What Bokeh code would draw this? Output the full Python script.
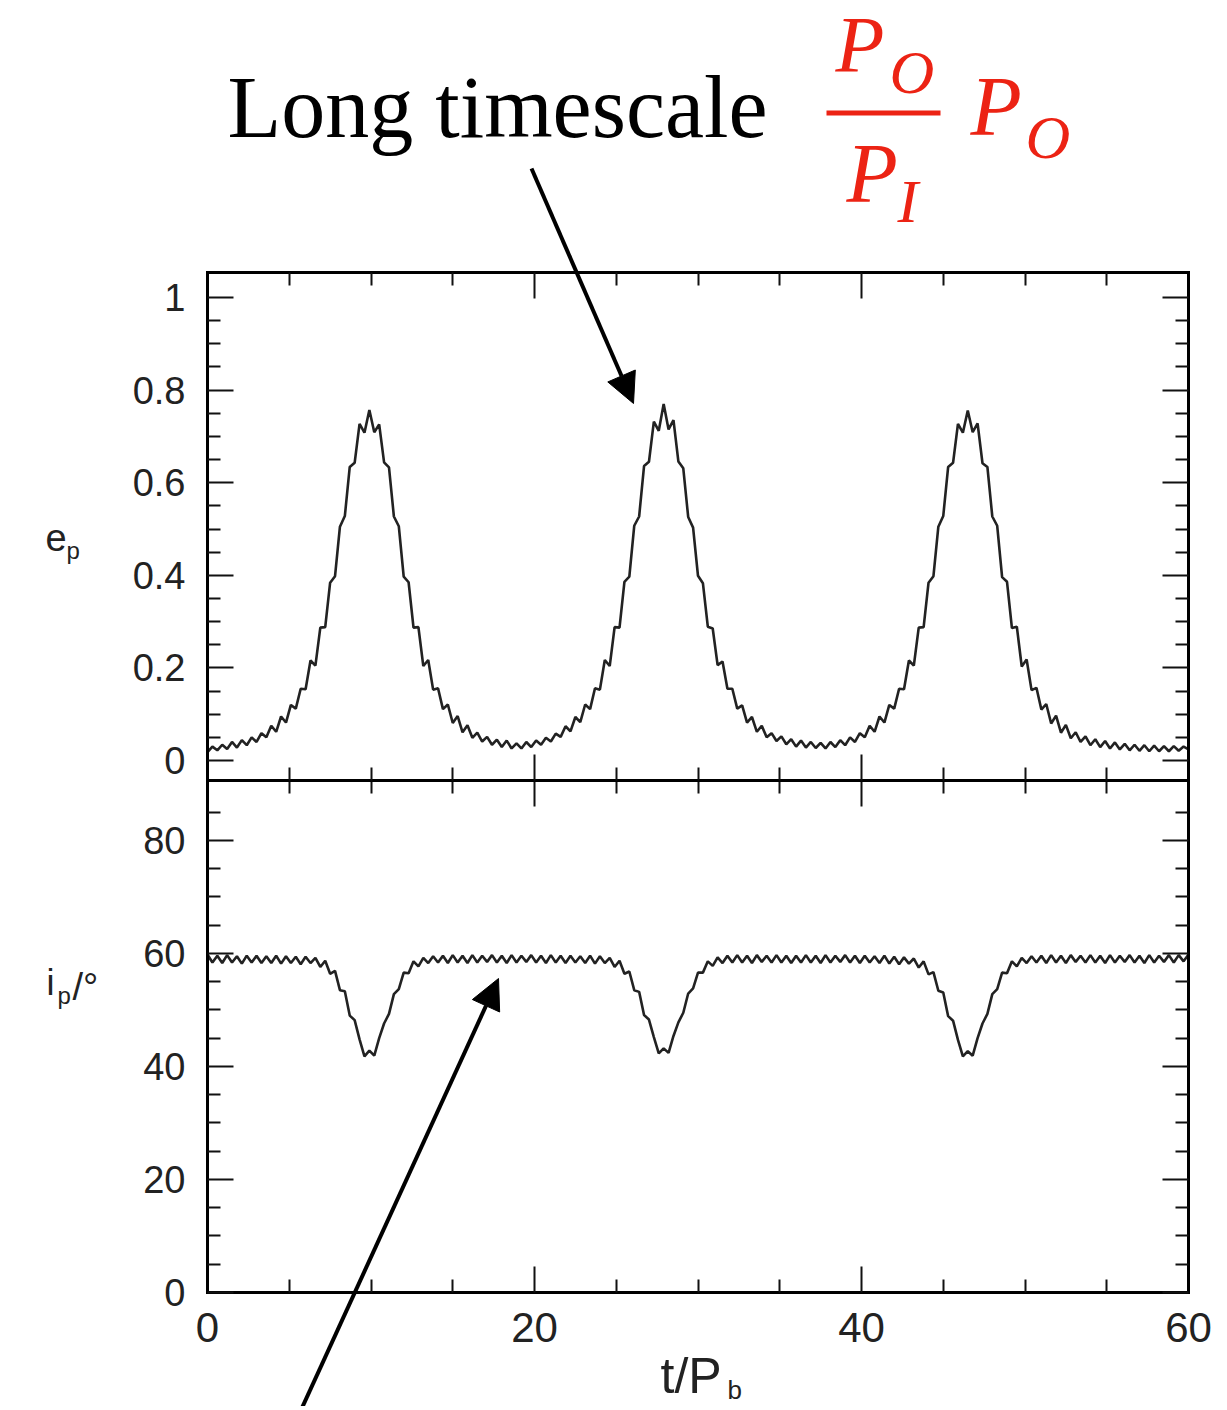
from bokeh.plotting import figure
from bokeh.models import (Range1d, LinearAxis, FixedTicker, CustomJSTickFormatter,
                          Label, Arrow, NormalHead)
from bokeh.embed import file_html
from bokeh.resources import INLINE

# ---------------- data ----------------
T_STEP = 0.3  # sampling step in t/P_b

e_p = [
    0.018, 0.030, 0.022, 0.034, 0.025, 0.040, 0.028, 0.044, 0.033, 0.050,
    0.040, 0.059, 0.050, 0.075, 0.062, 0.095, 0.082, 0.120, 0.112, 0.155,
    0.154, 0.216, 0.205, 0.287, 0.288, 0.384, 0.398, 0.505, 0.528, 0.634,
    0.643, 0.727, 0.708, 0.757, 0.709, 0.726, 0.644, 0.633, 0.527, 0.506,
    0.397, 0.385, 0.287, 0.288, 0.204, 0.217, 0.153, 0.156, 0.111, 0.121,
    0.081, 0.096, 0.061, 0.076, 0.049, 0.060, 0.041, 0.051, 0.034, 0.045,
    0.029, 0.043, 0.026, 0.037, 0.026, 0.040, 0.029, 0.043, 0.034, 0.049,
    0.041, 0.058, 0.051, 0.074, 0.063, 0.094, 0.083, 0.121, 0.111, 0.156,
    0.153, 0.217, 0.204, 0.288, 0.287, 0.386, 0.397, 0.507, 0.527, 0.636,
    0.645, 0.732, 0.712, 0.770, 0.715, 0.735, 0.646, 0.631, 0.526, 0.503,
    0.399, 0.383, 0.289, 0.285, 0.206, 0.214, 0.155, 0.155, 0.112, 0.119,
    0.082, 0.094, 0.062, 0.075, 0.050, 0.059, 0.042, 0.052, 0.035, 0.046,
    0.030, 0.043, 0.028, 0.040, 0.027, 0.038, 0.026, 0.040, 0.029, 0.044,
    0.033, 0.050, 0.040, 0.059, 0.050, 0.075, 0.062, 0.095, 0.082, 0.120,
    0.112, 0.155, 0.154, 0.216, 0.205, 0.287, 0.288, 0.384, 0.398, 0.505,
    0.528, 0.634, 0.643, 0.727, 0.708, 0.756, 0.709, 0.728, 0.642, 0.634,
    0.527, 0.507, 0.396, 0.386, 0.286, 0.289, 0.203, 0.218, 0.152, 0.157,
    0.110, 0.122, 0.080, 0.097, 0.060, 0.077, 0.048, 0.061, 0.040, 0.052,
    0.033, 0.046, 0.029, 0.042, 0.026, 0.039, 0.024, 0.036, 0.022, 0.034,
    0.021, 0.033, 0.020, 0.032, 0.020, 0.031, 0.020, 0.031, 0.021, 0.030,
    0.024,
]

i_p = [
    59.8, 58.4, 59.6, 58.3, 59.7, 58.4, 59.5, 58.2, 59.6, 58.4,
    59.6, 58.3, 59.5, 58.3, 59.6, 58.2, 59.5, 58.3, 59.4, 58.1,
    59.4, 58.3, 59.2, 57.6, 58.7, 56.4, 56.9, 53.5, 53.3, 49.0,
    48.2, 44.8, 41.8, 42.8, 41.9, 45.0, 47.6, 49.3, 52.8, 53.7,
    56.6, 56.5, 58.6, 57.7, 59.2, 58.3, 59.5, 58.4, 59.6, 58.3,
    59.7, 58.4, 59.6, 58.3, 59.7, 58.4, 59.6, 58.5, 59.7, 58.4,
    59.6, 58.3, 59.7, 58.4, 59.6, 58.5, 59.7, 58.4, 59.6, 58.3,
    59.7, 58.4, 59.6, 58.3, 59.6, 58.4, 59.5, 58.3, 59.6, 58.2,
    59.5, 58.3, 59.2, 57.6, 58.7, 56.4, 56.8, 53.5, 53.2, 49.1,
    48.3, 45.2, 42.3, 43.2, 42.4, 45.4, 47.8, 49.5, 52.9, 53.8,
    56.6, 56.6, 58.6, 57.8, 59.3, 58.3, 59.6, 58.4, 59.7, 58.4,
    59.6, 58.3, 59.7, 58.5, 59.6, 58.4, 59.7, 58.4, 59.6, 58.3,
    59.6, 58.4, 59.7, 58.4, 59.6, 58.3, 59.7, 58.4, 59.6, 58.5,
    59.7, 58.4, 59.6, 58.3, 59.6, 58.4, 59.5, 58.3, 59.6, 58.2,
    59.4, 58.1, 59.3, 58.2, 59.1, 57.5, 58.6, 56.3, 56.7, 53.4,
    53.1, 48.9, 48.1, 44.7, 41.8, 42.7, 41.9, 45.0, 47.6, 49.3,
    52.8, 53.7, 56.6, 56.5, 58.6, 57.7, 59.2, 58.3, 59.5, 58.4,
    59.6, 58.3, 59.7, 58.4, 59.6, 58.3, 59.7, 58.5, 59.6, 58.4,
    59.7, 58.4, 59.6, 58.3, 59.7, 58.4, 59.6, 58.5, 59.7, 58.4,
    59.6, 58.3, 59.7, 58.4, 59.6, 58.5, 59.7, 58.4, 59.7, 58.6,
    59.8,
]

t_e = [round(k * T_STEP, 1) for k in range(len(e_p))]
t_i = [round(k * T_STEP, 1) for k in range(len(i_p))]

x_major = [0, 20, 40, 60]
x_minor = [5, 10, 15, 25, 30, 35, 45, 50, 55]
e_major = [0, 0.2, 0.4, 0.6, 0.8, 1.0]
e_minor = [0.05, 0.1, 0.15, 0.25, 0.3, 0.35, 0.45, 0.5, 0.55,
           0.65, 0.7, 0.75, 0.85, 0.9, 0.95]
i_major = [0, 20, 40, 60, 80]
i_minor = [5, 10, 15, 25, 30, 35, 45, 50, 55, 65, 70, 75, 85]

# ---------------- geometry ----------------
W, H = 1220, 1406
X_START, X_END = 0, 60
E_BOT, E_TOP = -0.0432, 1.054
I_BOT, I_TOP = 0, 90.6

FRAME_L, FRAME_R = 207, 1188
TOP1, MID, BOT2 = 272, 780, 1292


def tx(px):
    return X_START + (px - FRAME_L) * (X_END - X_START) / (FRAME_R - FRAME_L)


def ey(py):
    return E_TOP - (py - TOP1) * (E_TOP - E_BOT) / (MID - TOP1)


def iy(py):
    return I_TOP - (py - MID) * (I_TOP - I_BOT) / (BOT2 - MID)


TICK_FONT = "Liberation Sans"
RED = "#ec2314"
INK = "#222222"

p = figure(width=W, height=H, title=None,
           x_range=Range1d(tx(0), tx(W)), y_range=Range1d(ey(H), ey(0)),
           x_axis_location=None, y_axis_location=None,
           toolbar_location=None, output_backend="svg",
           min_border_left=0, min_border_right=0,
           min_border_top=0, min_border_bottom=0)
p.extra_y_ranges = {"i": Range1d(iy(H), iy(0))}
p.grid.visible = False
p.outline_line_color = None
p.background_fill_color = "white"
p.border_fill_color = "white"


def add_axis(side, ticks, minor, loc, bounds, range_name="default",
             labels=True, size="38px", standoff=22, formatter=None):
    kw = dict(ticker=FixedTicker(ticks=ticks, minor_ticks=minor),
              fixed_location=loc, bounds=bounds, y_range_name=range_name)
    if formatter is not None:
        kw["formatter"] = formatter
    ax = LinearAxis(**kw)
    ax.axis_line_color = "black"
    ax.axis_line_width = 3
    ax.axis_line_cap = "square"
    ax.major_tick_in = 26
    ax.major_tick_out = 0
    ax.minor_tick_in = 13
    ax.minor_tick_out = 0
    ax.major_tick_line_color = "#111111"
    ax.major_tick_line_width = 2
    ax.minor_tick_line_color = "#111111"
    ax.minor_tick_line_width = 2
    if labels:
        ax.major_label_text_font = TICK_FONT
        ax.major_label_text_font_size = size
        ax.major_label_text_color = INK
        ax.major_label_standoff = standoff
    else:
        ax.major_label_text_color = None
    p.add_layout(ax, side)
    return ax


e_fmt = CustomJSTickFormatter(code="return (Math.round(tick*10)/10).toString();")

# top panel (e_p) frame with ticks
add_axis("left", e_major, e_minor, X_START, (E_BOT, E_TOP), formatter=e_fmt)
add_axis("right", e_major, e_minor, X_END, (E_BOT, E_TOP), labels=False)
add_axis("below", x_major, x_minor, E_BOT, (X_START, X_END), labels=False)
add_axis("above", x_major, x_minor, E_TOP, (X_START, X_END), labels=False)

# bottom panel (i_p) frame with ticks
add_axis("left", i_major, i_minor, X_START, (I_BOT, I_TOP), range_name="i")
add_axis("right", i_major, i_minor, X_END, (I_BOT, I_TOP), range_name="i",
         labels=False)
add_axis("below", x_major, x_minor, I_BOT, (X_START, X_END), range_name="i",
         size="42px", standoff=20)
add_axis("above", x_major, x_minor, I_TOP, (X_START, X_END), range_name="i",
         labels=False)

# curves
p.line(t_e, e_p, line_color=INK, line_width=2.6)
p.line(t_i, i_p, line_color=INK, line_width=2.6, y_range_name="i")


def text(px, py, txt, size, font=TICK_FONT, color=INK, style="normal"):
    # py is the wanted baseline (page pixels); the renderer puts the
    # alphabetic baseline about 0.35 em lower, so compensate for it
    p.add_layout(Label(x=tx(px), y=ey(py - 0.35 * size), text=txt,
                       text_font=font, text_font_size=f"{size}px",
                       text_color=color, text_font_style=style,
                       text_align="left", text_baseline="alphabetic"))


# axis labels
text(45, 550, "e", 38)
text(66, 558, "p", 24)
text(46, 995, "i", 36)
text(57, 1003, "p", 24)
text(72, 1000, "/°", 38)
text(660, 1393, "t/P", 50)
text(727, 1399, "b", 26)

# header annotation
SERIF = "Liberation Serif"
text(227, 138, "Long timescale", 88, font=SERIF, color="black")
text(835, 72, "P", 80, font=SERIF, color=RED, style="italic")
text(889, 93, "O", 62, font=SERIF, color=RED, style="italic")
text(846, 202, "P", 84, font=SERIF, color=RED, style="italic")
text(897, 222, "I", 62, font=SERIF, color=RED, style="italic")
text(970, 135, "P", 84, font=SERIF, color=RED, style="italic")
text(1025, 158, "O", 62, font=SERIF, color=RED, style="italic")
p.add_layout(Arrow(end=None, x_start=tx(826), y_start=ey(112.5),
                   x_end=tx(940), y_end=ey(112.5),
                   line_color=RED, line_width=5))

# arrows
p.add_layout(Arrow(end=NormalHead(size=30, fill_color="black", line_color="black"),
                   x_start=tx(531), y_start=ey(168),
                   x_end=tx(633), y_end=ey(403),
                   line_color="black", line_width=4))
p.add_layout(Arrow(end=NormalHead(size=30, fill_color="black", line_color="black"),
                   x_start=tx(298), y_start=ey(1415),
                   x_end=tx(498), y_end=ey(978),
                   line_color="black", line_width=4))

with open("out.html", "w") as f:
    f.write(file_html(p, INLINE))
